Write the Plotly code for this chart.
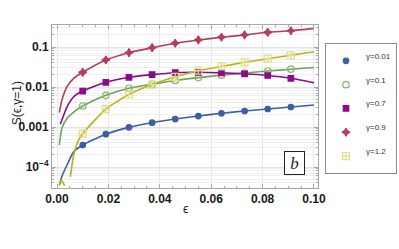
import plotly.graph_objects as go

# ---- data ----
eps_markers = [0.01, 0.019, 0.028, 0.037, 0.046, 0.055, 0.064, 0.073, 0.082, 0.091]

# gamma = 0.01
g001_curve_x = [0.0009, 0.0019, 0.0039, 0.0065]
g001_curve_y = [3.5e-5, 5.8e-5, 1.12e-4, 2.4e-4]
g001_marks = [0.000355, 0.00066, 0.00098, 0.00128, 0.00158, 0.00188, 0.0022, 0.00251, 0.00282, 0.00316]
g001_end = 0.00355

# gamma = 0.1
g01_curve_x = [0.0009, 0.0019, 0.0039, 0.0065]
g01_curve_y = [0.000355, 0.00093, 0.00165, 0.00237]
g01_marks = [0.00335, 0.0062, 0.0093, 0.0117, 0.01454, 0.01718, 0.0197, 0.0224, 0.0251, 0.0279]
g01_end = 0.0307

# gamma = 0.7
g07_curve_x = [0.0013, 0.0019, 0.0039, 0.0065]
g07_curve_y = [0.00117, 0.0015, 0.0032, 0.0057]
g07_marks = [0.0079, 0.0131, 0.0175, 0.0204, 0.0228, 0.0233, 0.0226, 0.0214, 0.0194, 0.0165]
g07_end = 0.0128

# gamma = 0.9
g09_curve_x = [0.0009, 0.0019, 0.0039, 0.0065]
g09_curve_y = [0.0023, 0.0047, 0.0102, 0.0165]
g09_marks = [0.0233, 0.0473, 0.072, 0.096, 0.124, 0.15, 0.175, 0.2, 0.233, 0.255]
g09_end = 0.293

# gamma = 1.2
g12_curve_x = [0.0052, 0.0065, 0.0084]
g12_curve_y = [5.7e-5, 2.0e-4, 4.7e-4]
g12_marks = [0.00068, 0.0028, 0.0065, 0.0115, 0.018, 0.0256, 0.0326, 0.0414, 0.051, 0.062]
g12_end = 0.076
g12_bump_x = [0.0009, 0.0017, 0.003]
g12_bump_y = [3.5e-5, 4.7e-5, 3.4e-5]

eps_end = 0.1

x_tickvals = [0.0, 0.02, 0.04, 0.06, 0.08, 0.10]
y_tickvals = [1e-4, 1e-3, 1e-2, 1e-1]
y_ticktext = ["10<sup>\u22124</sup>", "0.001", "0.01", "0.1"]
y_minor = [m * 10.0 ** e for e in range(-5, 0) for m in range(2, 10)]

labels = ["\u03b3=0.01", "\u03b3=0.1", "\u03b3=0.7", "\u03b3=0.9", "\u03b3=1.2"]

series = [
    (g001_curve_x, g001_curve_y, g001_marks, g001_end, "#3d5da6", "circle", "#3d5da6", 5.5),
    (g01_curve_x, g01_curve_y, g01_marks, g01_end, "#6ea45c", "circle-open", "#86b872", 6.5),
    (g07_curve_x, g07_curve_y, g07_marks, g07_end, "#8c0a8c", "square", "#8c0a8c", 5.5),
    (g09_curve_x, g09_curve_y, g09_marks, g09_end, "#b33e55", "star-diamond", "#b33e55", 6),
    (g12_curve_x, g12_curve_y, g12_marks, g12_end, "#b9b312", "square-cross-open", "#dede8a", 7),
]

fig = go.Figure()

for i, (cx, cy, mk, end, lc, sym, mc, ms) in enumerate(series):
    xs = list(cx) + list(eps_markers) + [eps_end]
    ys = list(cy) + list(mk) + [end]
    fig.add_trace(go.Scatter(x=xs, y=ys, mode="lines", line=dict(color=lc, width=1.6, shape="spline", smoothing=0.6),
                             showlegend=False, hoverinfo="skip"))
    fig.add_trace(go.Scatter(x=eps_markers, y=mk, mode="markers", name=labels[i] + "<br> ", legendgroup=str(i),
                             marker=dict(symbol=sym, color=mc, size=ms, line=dict(color=mc, width=1.2))))

fig.add_trace(go.Scatter(x=g12_bump_x, y=g12_bump_y, mode="lines", line=dict(color="#b9b312", width=1.6),
                         showlegend=False, hoverinfo="skip"))

axis_common = dict(showline=True, linecolor="#a8a8a8", linewidth=1, mirror="ticks", ticks="inside",
                   tickcolor="#a8a8a8", ticklen=4, zeroline=False, automargin=False,
                   tickfont=dict(family="Liberation Sans", size=12, color="#1a1a1a", weight="bold"))

fig.update_xaxes(range=[-0.00195, 0.10156], tickvals=x_tickvals, tickformat=".2f",
                 showgrid=True, gridcolor="#e8e8e8", gridwidth=1,
                 minor=dict(dtick=0.005, tick0=0, ticks="inside", ticklen=2, tickcolor="#a8a8a8", showgrid=False),
                 **axis_common)
fig.update_yaxes(type="log", range=[-4.525, -0.45], tickvals=y_tickvals, ticktext=y_ticktext,
                 showgrid=True, gridcolor="#e2e2e2", gridwidth=1,
                 minor=dict(tickvals=y_minor, ticks="inside", ticklen=2, tickcolor="#a8a8a8",
                            showgrid=True, gridcolor="#efefef"),
                 **axis_common)

fig.add_annotation(text="S(\u03f5,\u03b3=1)", xref="paper", yref="paper", x=-0.165, y=0.52,
                   textangle=-90, showarrow=False, font=dict(family="Liberation Sans", size=12, color="#1a1a1a"))
fig.add_annotation(text="\u03f5", xref="paper", yref="paper", x=0.5, y=-0.184,
                   showarrow=False, font=dict(family="Liberation Sans", size=12, color="#1a1a1a"))
fig.add_annotation(text="<i>b</i>", xref="paper", yref="paper", x=0.951, y=0.077, showarrow=False,
                   width=17, height=20, bordercolor="#222222", borderwidth=1, borderpad=1, bgcolor="white",
                   font=dict(family="Liberation Serif", size=17, color="#222222"))

fig.update_layout(
    width=399, height=249,
    margin=dict(l=52, r=81, t=25, b=61, autoexpand=False),
    paper_bgcolor="white", plot_bgcolor="white",
    showlegend=True,
    legend=dict(x=1.297, y=0.89, xanchor="right", yanchor="top", bordercolor="#8a8a8a", borderwidth=1,
                bgcolor="white", font=dict(family="Liberation Sans", size=8, color="#333333"),
                tracegroupgap=0, itemwidth=30, valign="middle"),
)

fig.write_html("out.html", config={"displayModeBar": False},
               post_script="document.body.style.margin='0px';")
